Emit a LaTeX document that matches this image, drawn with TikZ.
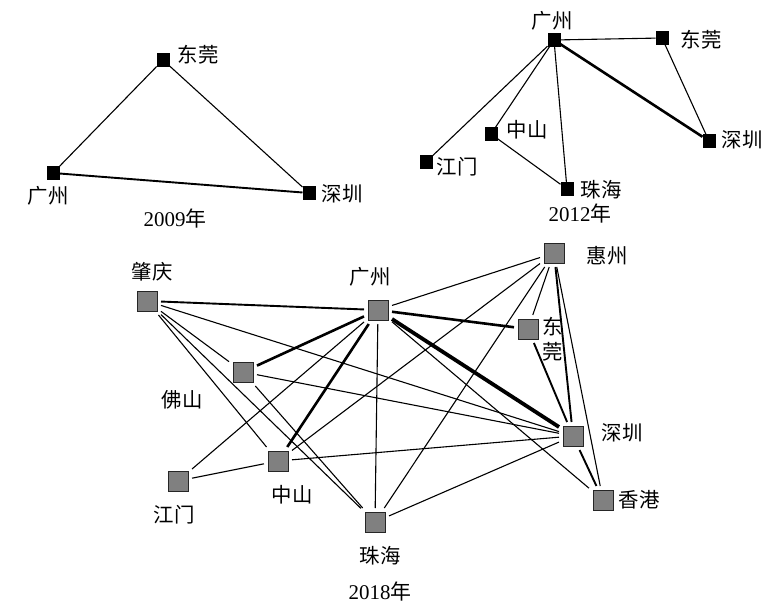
\documentclass[tikz,border=0pt]{standalone}
\usepackage{fontspec}
\setmainfont{Liberation Serif}
\newfontfamily\cjk{Noto Sans CJK SC}
\begin{document}
\begin{tikzpicture}[x=1bp,y=-1bp,
  sbox/.style={draw=black,fill=black,minimum size=12.5bp,inner sep=0pt,line width=0.5bp},
  gbox/.style={draw=black!85,fill=black!50,minimum size=20bp,inner sep=0pt,line width=0.9bp,outer sep=4bp},
  lab/.style={font=\fontsize{20.5}{22}\selectfont\cjk,inner sep=0pt},
  yr/.style={font=\fontsize{21}{23}\selectfont,inner sep=0pt},
  thinl/.style={line width=1.1bp},
  medl/.style={line width=1.9bp},
  thickl/.style={line width=2.6bp},
  vthickl/.style={line width=3.8bp}]
\useasboundingbox (0,0) rectangle (766,606);

% ---------- 2009 ----------
\node[sbox] (a1) at (53,173) {};
\node[sbox] (a2) at (163,60) {};
\node[sbox] (a3) at (309,193) {};
\node[lab] (la1) at (48,196) {广州};
\node[lab] (la2) at (198,55) {东莞};
\node[lab] (la3) at (342,194) {深圳};
\node[yr] (ya) at (175,219) {2009{\cjk 年}};
\draw[thinl] (a1) -- (a2);
\draw[thinl] (a2) -- (a3);
\draw[medl] (a1) -- (a3);

% ---------- 2012 ----------
\node[sbox] (b1) at (554,40) {};
\node[sbox] (b2) at (662,38) {};
\node[sbox] (b3) at (709,141) {};
\node[sbox] (b4) at (491,134) {};
\node[sbox] (b5) at (426,162) {};
\node[sbox] (b6) at (567,189) {};
\node[lab] (lb1) at (552,21) {广州};
\node[lab] (lb2) at (701,40) {东莞};
\node[lab] (lb3) at (742,140) {深圳};
\node[lab] (lb4) at (527,130) {中山};
\node[lab] (lb5) at (457,167) {江门};
\node[lab] (lb6) at (601,190) {珠海};
\node[yr] (yb) at (580,214) {2012{\cjk 年}};
\draw[thinl] (b1) -- (b2);
\draw[thinl] (b2) -- (b3);
\draw[thickl] (b1) -- (b3);
\draw[thinl] (b1) -- (b5);
\draw[thinl] (b1) -- (b4);
\draw[thinl] (b1) -- (b6);
\draw[thinl] (b4) -- (b6);

% ---------- 2018 ----------
\node[gbox] (zq) at (147,301) {};
\node[gbox] (gz) at (378,310) {};
\node[gbox] (fs) at (243,372) {};
\node[gbox] (zs) at (278,461) {};
\node[gbox] (jm) at (178,481) {};
\node[gbox] (zh) at (375,522) {};
\node[gbox] (hz) at (554,253) {};
\node[gbox] (dg) at (528,329) {};
\node[gbox] (sz) at (573,436) {};
\node[gbox] (xg) at (603,500) {};
\node[lab] (lzq) at (152,272) {肇庆};
\node[lab] (lgz) at (370,277) {广州};
\node[lab] (lfs) at (182,400) {佛山};
\node[lab] (lzs) at (292,495) {中山};
\node[lab] (ljm) at (174,515) {江门};
\node[lab] (lzh) at (380,556) {珠海};
\node[lab] (lhz) at (607,256) {惠州};
\node[lab] (ldg1) at (553,327) {东};
\node[lab] (ldg2) at (553,352) {莞};
\node[lab] (lsz) at (622,433) {深圳};
\node[lab] (lxg) at (639,500) {香港};
\node[yr] (yc) at (380,592) {2018{\cjk 年}};

\draw[thinl] (zq) -- (sz);
\draw[thinl] (zq) -- (fs);
\draw[thinl] (zq) -- (zh);
\draw[thinl] (zq) -- (zs);
\draw[thinl] (fs) -- (sz);
\draw[thinl] (fs) -- (zh);
\draw[thinl] (jm) -- (gz);
\draw[thinl] (jm) -- (zs);
\draw[thinl] (zs) -- (sz);
\draw[thinl] (zs) -- (hz);
\draw[thinl] (gz) -- (zh);
\draw[thinl] (gz) -- (hz);
\draw[thinl] (gz) -- (xg);
\draw[thinl] (hz) -- (dg);
\draw[thinl] (hz) -- (zh);
\draw[thinl] (hz) -- (xg);
\draw[thinl] (zh) -- (sz);
\draw[medl] (zq) -- (gz);
\draw[thickl] (gz) -- (fs);
\draw[thickl] (gz) -- (zs);
\draw[thickl] (gz) -- (dg);
\draw[medl] (dg) -- (sz);
\draw[medl] (hz) -- (sz);
\draw[medl] (sz) -- (xg);
\draw[vthickl] (gz) -- (sz);
\end{tikzpicture}
\end{document}
